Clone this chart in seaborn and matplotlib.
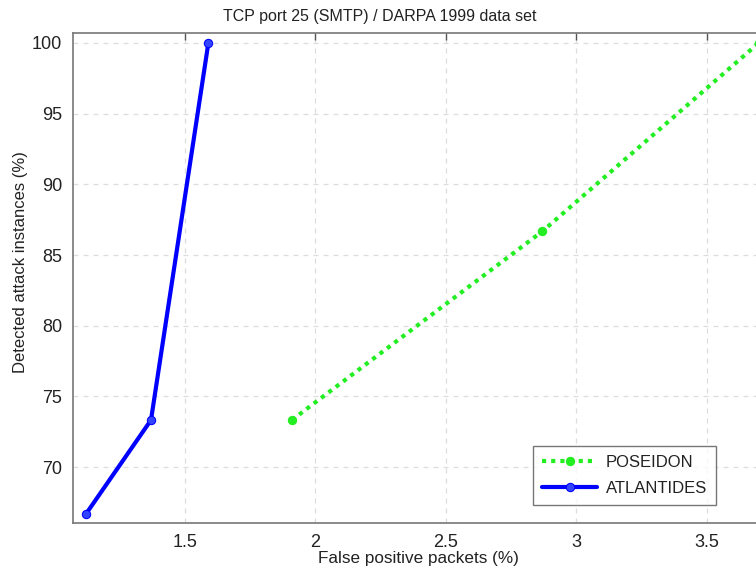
import matplotlib
matplotlib.use("Agg")
import matplotlib.pyplot as plt
import seaborn as sns
import pandas as pd

# Data
poseidon_fp = [1.91, 2.87, 3.70]
poseidon_det = [73.33, 86.67, 100.0]
atlantides_fp = [1.12, 1.37, 1.59]
atlantides_det = [66.67, 73.33, 100.0]
series_names = ["POSEIDON", "ATLANTIDES"]
x_ticks = [1.5, 2, 2.5, 3, 3.5]
y_ticks = [70, 75, 80, 85, 90, 95, 100]

sns.set_style("white")
plt.rcParams['font.family'] = ['Liberation Sans', 'DejaVu Sans']

fig = plt.figure(figsize=(7.56, 5.72), dpi=100)
ax = fig.add_axes([73/756, 1-523/572, 691/756, 490/572])

df_p = pd.DataFrame({"x": poseidon_fp, "y": poseidon_det})
df_a = pd.DataFrame({"x": atlantides_fp, "y": atlantides_det})

sns.lineplot(data=df_p, x="x", y="y", ax=ax, sort=False, color="#22ee22",
             linestyle=(0, (1, 1.2)), linewidth=3, marker="o", markersize=6,
             markeredgecolor="#22ee22", label=series_names[0])
sns.lineplot(data=df_a, x="x", y="y", ax=ax, sort=False, color="#0000ff",
             linewidth=3, marker="o", markersize=6, markeredgecolor="#0000ff",
             markerfacecolor="#3344ff", label=series_names[1])

ax.set_xlim(1.071, 3.72)
ax.set_ylim(66.05, 100.7)
ax.set_xticks(x_ticks)
ax.set_xticklabels(["1.5", "2", "2.5", "3", "3.5"])
ax.set_yticks(y_ticks)
ax.grid(True, linestyle=(0, (4, 4)), color="#dddddd", linewidth=0.9)
for s in ax.spines.values():
    s.set_color("#777777")
    s.set_linewidth(1.2)
ax.tick_params(direction="in", length=5, width=1, color="#555555",
               labelsize=13, top=True, right=True, labelcolor="#222222", pad=8)

ax.set_xlabel("False positive packets (%)", fontsize=12.3, color="#222222", labelpad=0)
ax.set_ylabel("Detected attack instances (%)", fontsize=12, color="#222222")
ax.yaxis.set_label_coords((28 - 73) / 691, (523 - 262) / 490)
fig.text(380/756, 1-17/572, "TCP port 25 (SMTP) / DARPA 1999 data set", fontsize=11.5,
         color="#222222", ha="center", va="center")

leg = ax.legend(loc="lower left", bbox_to_anchor=((533-73)/691, (523-505)/490),
                borderaxespad=0,
                fontsize=12, frameon=True, fancybox=False, handlelength=3.3,
                borderpad=0.55, labelspacing=0.65, handletextpad=0.5)
leg.get_frame().set_edgecolor("#555555")
leg.get_frame().set_linewidth(1.0)
for t in leg.get_texts():
    t.set_color("#222222")

fig.savefig("out.png", dpi=100)
